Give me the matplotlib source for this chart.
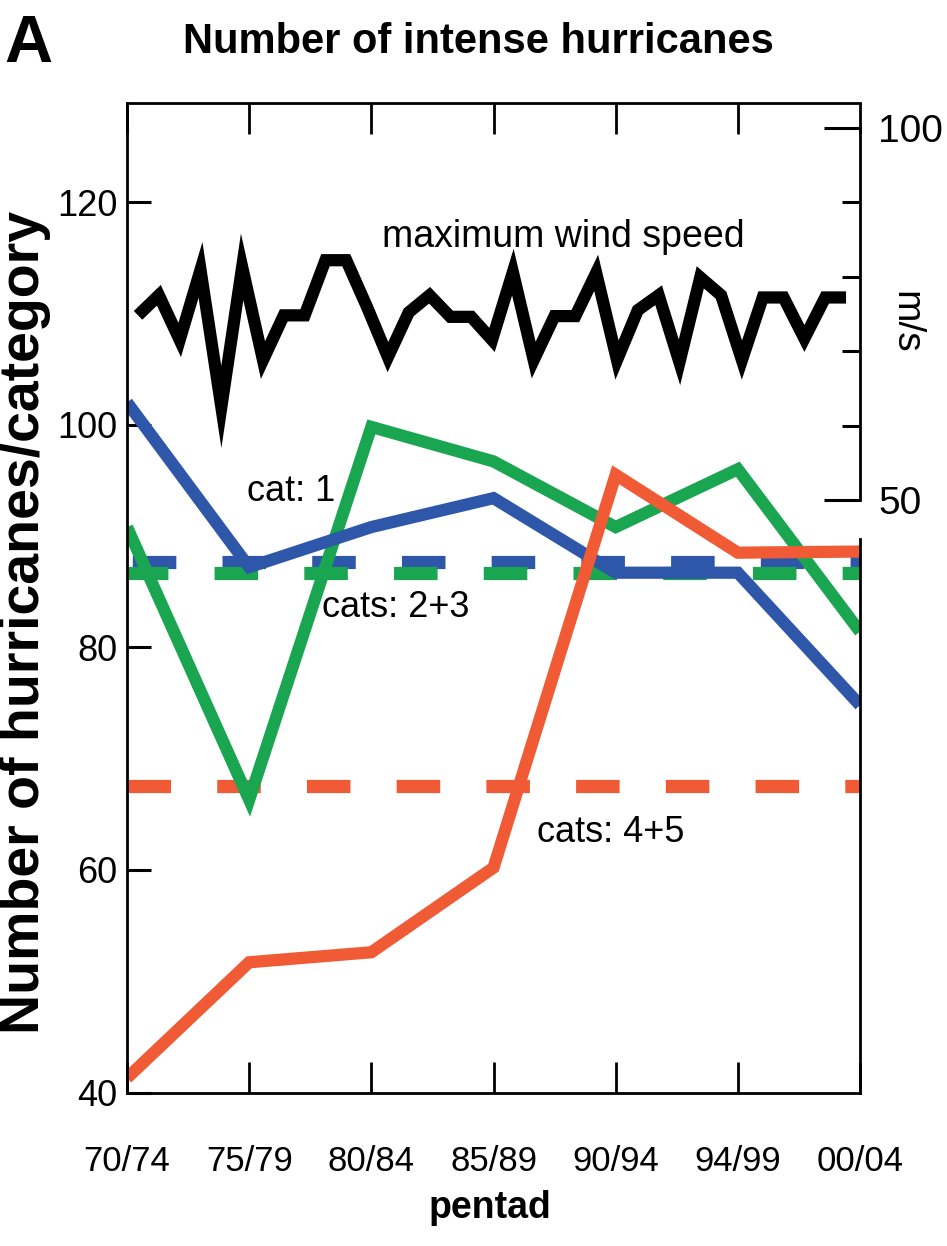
import matplotlib
matplotlib.use("Agg")
from matplotlib import pyplot as plt
from matplotlib.ticker import FixedLocator

plt.rcParams['font.family'] = ['Liberation Sans', 'DejaVu Sans']

# pentad data (number of hurricanes per category)
pentads = ["70/74", "75/79", "80/84", "85/89", "90/94", "94/99", "00/04"]
cat1 = [102.0, 87.2, 90.8, 93.4, 86.7, 86.7, 74.8]
cat23 = [90.8, 66.3, 99.8, 96.7, 90.8, 96.0, 81.4]
cat45 = [41.3, 51.7, 52.6, 60.2, 95.5, 88.5, 88.6]

# long-term means (dashed)
mean_cat1 = 87.7
mean_cat23 = 86.7
mean_cat45 = 67.5

# yearly maximum wind speed (m/s)
years = list(range(1970, 2005))
wind = [74.8, 77.5, 71.5, 80.9, 62.5, 81.3, 68.8, 74.8, 74.8, 82.2,
        82.2, 75.9, 69.2, 75.2, 77.5, 74.6, 74.6, 71.5, 80.6, 68.8,
        74.7, 74.7, 80.5, 68.8, 75.5, 77.5, 68.5, 79.9, 77.5, 68.8,
        77.2, 77.2, 71.7, 77.2, 77.2]

blue = "#2E56A9"
green = "#1AA650"
red = "#F05A35"

fig = plt.figure(figsize=(9.47, 12.46), dpi=100)
rect = [127 / 947, 1 - 1092.5 / 1246, (860 - 127) / 947, (1092.5 - 103) / 1246]
ax = fig.add_axes(rect)

xs = range(len(pentads))
lw = 8.8
dash_lw = 9.5

ax.axhline(mean_cat45, color=red, lw=dash_lw, linestyle=(0, (3.3, 3.5)), dash_capstyle='butt')
ax.axhline(mean_cat1, color=blue, lw=dash_lw, linestyle=(6.4, (3.3, 3.5)), dash_capstyle='butt')
ax.axhline(mean_cat23, color=green, lw=dash_lw, linestyle=(0.2, (3.3, 3.5)), dash_capstyle='butt')

ax.plot(xs, cat23, color=green, lw=lw, solid_capstyle='butt', solid_joinstyle='miter')
ax.plot(xs, cat1, color=blue, lw=lw, solid_capstyle='butt', solid_joinstyle='miter')
ax.plot(xs, cat45, color=red, lw=lw, solid_capstyle='butt', solid_joinstyle='miter')

ax.set_xlim(0, len(pentads) - 1)
ax.set_ylim(40, 128.9)

ax.set_xticks(list(xs))
ax.set_xticklabels(pentads, fontsize=25)
ax.set_yticks([40, 60, 80, 100, 120])
ax.tick_params(axis='x', direction='in', length=22, width=2, pad=38, top=True)
ax.tick_params(axis='y', direction='in', length=17, width=2.2, pad=7, labelsize=26)
for s in ax.spines.values():
    s.set_linewidth(2)
ax.spines['right'].set_bounds(40, 89.7)

ax.text(0.98, 94.0, "cat: 1", fontsize=26, va='center', ha='left')
ax.text(1.60, 83.6, "cats: 2+3", fontsize=26, va='center', ha='left')
ax.text(3.36, 63.4, "cats: 4+5", fontsize=26, va='center', ha='left')
ax.text(2.09, 116.9, "maximum wind speed", fontsize=27, va='center', ha='left')

# wind speed axis on the right
axw = fig.add_axes(rect, facecolor='none')
axw.plot(years, wind, color='black', lw=8.8, solid_capstyle='butt', solid_joinstyle='miter')
axw.set_xlim(1969.47, 2004.67)
axw.set_ylim(-29.5, 103.3)
for k in ['left', 'top', 'bottom']:
    axw.spines[k].set_visible(False)
axw.spines['right'].set_bounds(50, 100)
axw.spines['right'].set_linewidth(2)
axw.set_xticks([])
axw.yaxis.tick_right()
axw.set_yticks([50, 100])
axw.yaxis.set_minor_locator(FixedLocator([60, 70, 80, 90]))
axw.tick_params(axis='y', which='major', direction='in', length=26, width=2.2, pad=13, labelsize=28)
axw.tick_params(axis='y', which='minor', direction='in', length=13, width=2.2)

fig.text(905 / 947, 1 - 322 / 1246, "m/s", rotation=270, fontsize=28,
         ha='center', va='center')
fig.text(25 / 947, 1 - 622 / 1246, "Number of hurricanes/category", rotation=90,
         fontsize=40, fontweight='bold', ha='center', va='center')
fig.text(478 / 947, 1 - 42 / 1246, "Number of intense hurricanes", fontsize=30,
         fontweight='bold', ha='center', va='center')
fig.text(28 / 947, 1 - 45 / 1246, "A", fontsize=48, fontweight='bold', ha='center', va='center')
fig.text(490 / 947, 1 - 1208 / 1246, "pentad", fontsize=27, fontweight='bold', ha='center', va='center')

fig.savefig("out.png", dpi=100)
